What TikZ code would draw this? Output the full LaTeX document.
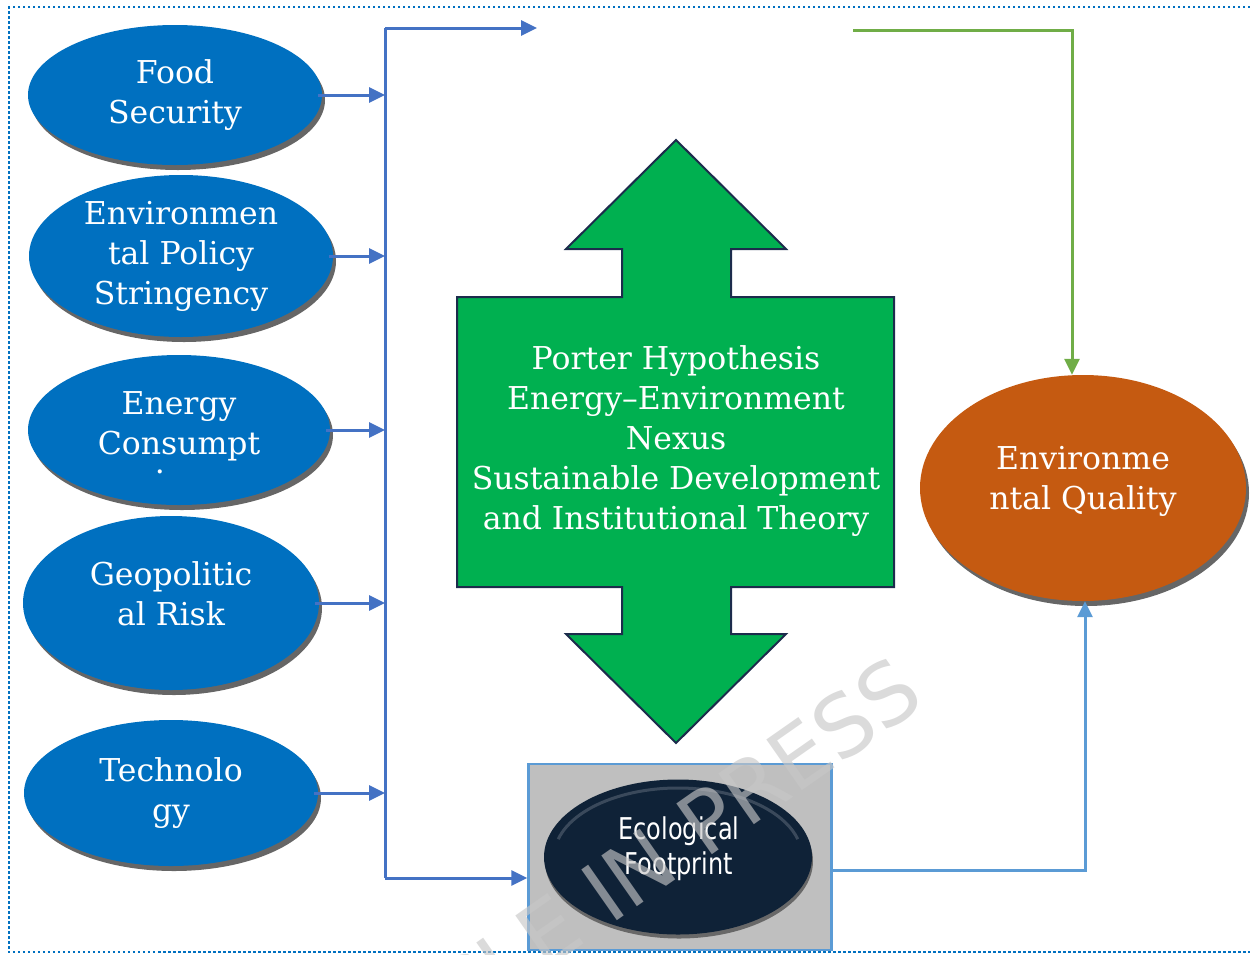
\documentclass[tikz,border=0pt]{standalone}
\usepackage{fontspec}
\setmainfont{DejaVu Serif}
\newfontfamily\labelsans[FakeStretch=0.8]{DejaVu Sans}
\newfontfamily\stampsans{DejaVu Sans}
\usepackage{xcolor}
\usetikzlibrary{arrows.meta,shapes.geometric,shadows}

\definecolor{driverblue}{HTML}{0070C0}
\definecolor{linkblue}{HTML}{4472C4}
\definecolor{lightlink}{HTML}{5B9BD5}
\definecolor{linkgreen}{HTML}{70AD47}
\definecolor{theorygreen}{HTML}{00B050}
\definecolor{theoryedge}{HTML}{1C2C4C}
\definecolor{qualorange}{HTML}{C55A11}
\definecolor{footnavy}{HTML}{0F2237}
\definecolor{boxgray}{HTML}{BFBFBF}

\tikzset{
  bigtext/.style={font=\fontsize{31.5}{40}\selectfont},
  driver/.style={ellipse, fill=driverblue, text=white, align=center, inner sep=0pt, bigtext,
    drop shadow={shadow xshift=3pt, shadow yshift=-5pt, fill=black!75, opacity=.8}},
  link/.style={linkblue, line width=3pt, -{Triangle[length=16pt,width=15pt]}},
  frameline/.style={draw=driverblue, line width=2.5pt, dash pattern=on 2.5pt off 2.5pt},
}

\begin{document}
\begin{tikzpicture}[x=1pt,y=-1pt]
  \useasboundingbox (0,0) rectangle (1250,954);
  \draw[frameline] (1250,7) -- (9,7) -- (9,952) -- (1250,952);

  \node[driver, minimum width=294pt, minimum height=140pt] (food) at (175,95) {Food\\Security};
  \node[driver, minimum width=304pt, minimum height=162pt] (policy) at (181,256) {Environmen\\tal Policy\\Stringency};
  \node[driver, minimum width=302pt, minimum height=150pt, text depth=13pt] (energy) at (179,430) {Energy\\Consumpt};
  \node[text=white, bigtext, inner sep=0pt] (energydot) at (160,472) {.};
  \node[driver, minimum width=296pt, minimum height=174pt, text depth=18pt] (risk) at (171,603) {Geopolitic\\al Risk};
  \node[driver, minimum width=294pt, minimum height=146pt] (tech) at (171,793) {Technolo\\gy};
  \node[driver, fill=qualorange, minimum width=326pt, minimum height=226pt, text depth=21pt] (quality) at (1083,488) {Environme\\ntal Quality};

  \draw[fill=theorygreen, draw=theoryedge, line width=2pt]
    (676,140) -- (786,249) -- (731,249) -- (731,297) -- (894,297) -- (894,587) -- (731,587)
    -- (731,634) -- (786,634) -- (676,743) -- (566,634) -- (622,634) -- (622,587)
    -- (457,587) -- (457,297) -- (622,297) -- (622,249) -- (566,249) -- cycle;
  \node[text=white, align=center, bigtext] (theory) at (676,441)
    {Porter Hypothesis\\Energy--Environment\\Nexus\\Sustainable Development\\and Institutional Theory};

  \node[fill=boxgray, draw=lightlink, line width=2.5pt, minimum width=303pt, minimum height=186pt] (box) at (680,857) {};
  \node[ellipse, fill=footnavy, minimum width=268pt, minimum height=155pt,
    drop shadow={shadow xshift=1pt, shadow yshift=-4pt, fill=black, opacity=.45}] (foot) at (678,857) {};
  \draw[white, opacity=.18, line width=3pt] (foot.center) ++(195:124 and 69) arc (195:345:124 and 69);
  \node[text=white, align=center, font=\labelsans\fontsize{30}{35}\selectfont] (footname) at (679,849) {Ecological\\Footprint};

  \coordinate (bustop) at (385,28);
  \coordinate (busbot) at (385,878);
  \coordinate (topend) at (537,28);
  \coordinate (greenstart) at (853,30);

  \draw[linkblue, line width=3pt] (bustop) -- (busbot);
  \path[link]
    (bustop) edge (topend)
    (busbot) edge (busbot -| box.west);
  \foreach \n in {food,policy,energy,risk,tech}
    \path[link] ([xshift=-4pt]\n.east) edge (\n.east -| bustop);
  \draw[link, linkgreen] (greenstart) -| ([xshift=-11pt]quality.north);
  \draw[link, lightlink] ([yshift=-13pt]box.east) -| ([xshift=2pt]quality.south);

  \node[rotate=35, anchor=base east, inner sep=0pt, text=black!22, text opacity=.64,
    font=\stampsans\fontsize{85}{85}\selectfont] (stamp) at (928,703) {ARTICLE IN PRESS};
\end{tikzpicture}
\end{document}
